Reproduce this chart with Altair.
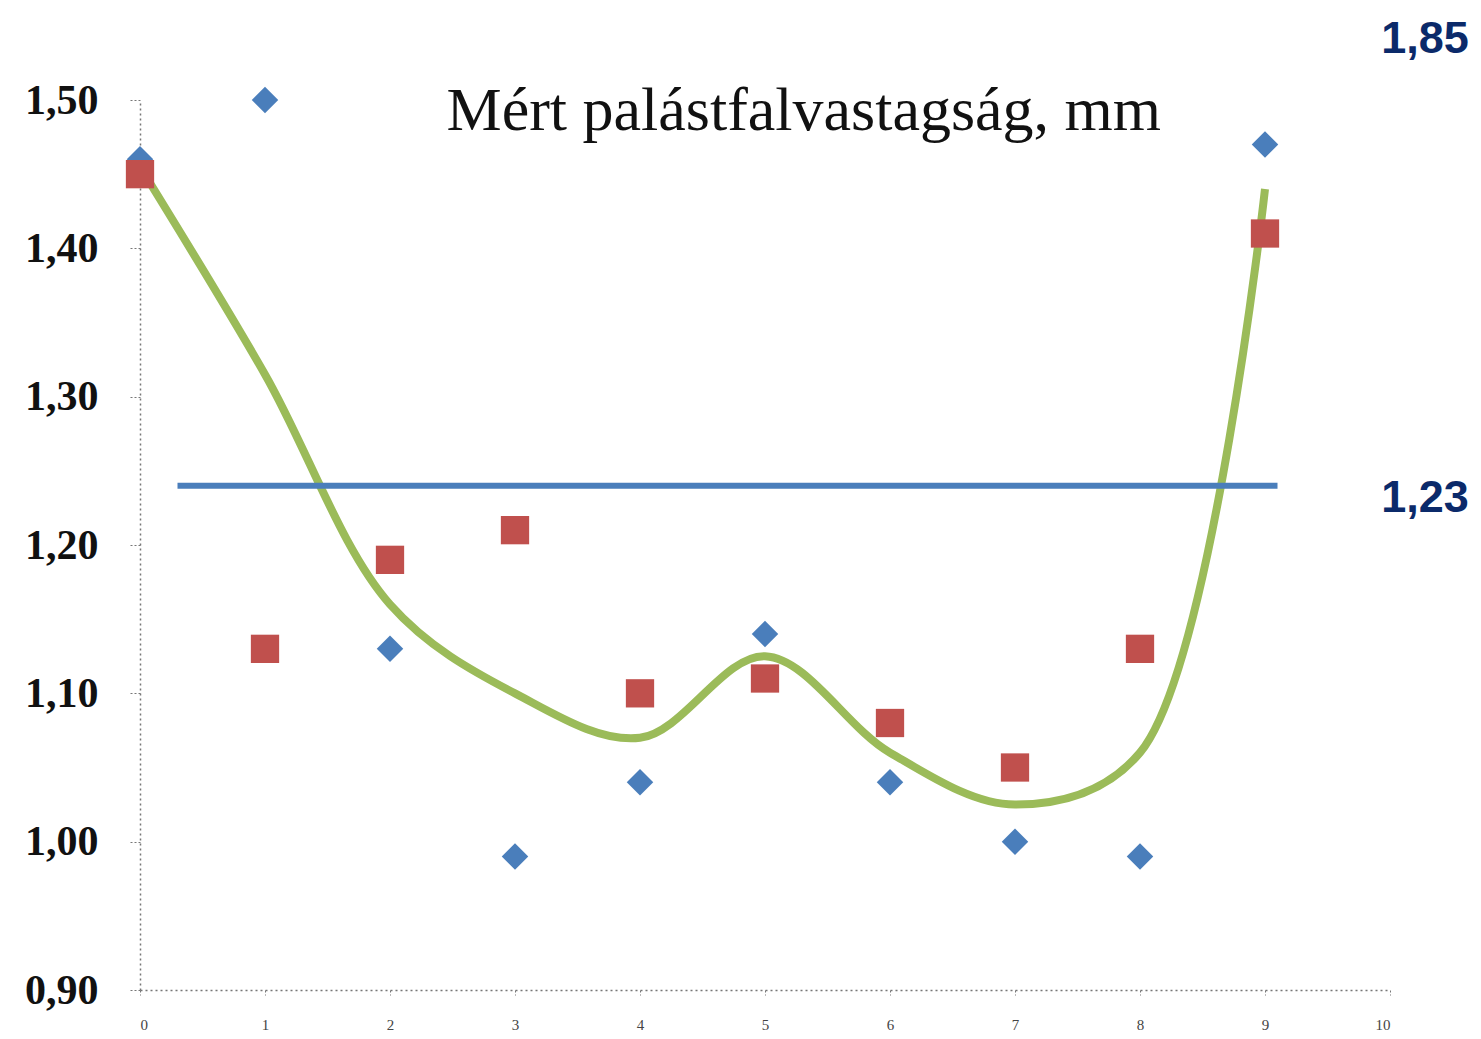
import altair as alt
import pandas as pd

# Measurement positions
x_pos = [0, 1, 2, 3, 4, 5, 6, 7, 8, 9]
# Series 1 (blue diamonds)
blue_vals = [1.46, 1.50, 1.13, 0.99, 1.04, 1.14, 1.04, 1.00, 0.99, 1.47]
# Series 2 (red squares)
red_vals = [1.45, 1.13, 1.19, 1.21, 1.10, 1.11, 1.08, 1.05, 1.13, 1.41]
# Smoothed average (green curve)
avg_vals = [1.455, 1.315, 1.16, 1.10, 1.07, 1.125, 1.06, 1.025, 1.06, 1.44]

# Horizontal reference line
ref_x = [0.3, 9.1]
ref_y = [1.24, 1.24]

# Annotations at the right
ann_text = ["1,85", "1,23"]
ann_x = [10.63, 10.63]
ann_y = [1.541, 1.232]

title_text = ["Mért palástfalvastagság, mm"]
title_x = [5.31]
title_y = [1.48]

y_ticks = [0.9, 1.0, 1.1, 1.2, 1.3, 1.4, 1.5]
x_ticks = [0, 1, 2, 3, 4, 5, 6, 7, 8, 9, 10]

df_blue = pd.DataFrame({"x": x_pos, "y": blue_vals})
df_red = pd.DataFrame({"x": x_pos, "y": red_vals})
df_avg = pd.DataFrame({"x": x_pos, "y": avg_vals})
df_ref = pd.DataFrame({"x": [ref_x[0]], "x2": [ref_x[1]], "y": [ref_y[0]]})
df_ann = pd.DataFrame({"x": ann_x, "y": ann_y, "t": ann_text})
df_title = pd.DataFrame({"x": title_x, "y": title_y, "t": title_text})

xs = alt.Scale(domain=[0, 10], nice=False, zero=False)
ys = alt.Scale(domain=[0.9, 1.5], nice=False, zero=False)

x_axis = alt.Axis(
    values=x_ticks, format="d", title=None, grid=False,
    domainDash=[2, 3], domainColor="#777", domainWidth=1.5,
    tickDash=[2, 2], tickColor="#777", tickSize=5,
    labelFont="Liberation Serif", labelFontSize=15, labelColor="#444",
    labelPadding=22,
)
y_axis = alt.Axis(
    values=y_ticks, title=None, grid=False,
    labelExpr="replace(format(datum.value, '.2f'), '.', ',')",
    domainDash=[2, 3], domainColor="#777", domainWidth=1.5,
    tickDash=[2, 2], tickColor="#777", tickSize=12,
    labelFont="Liberation Serif", labelFontSize=42, labelFontWeight="bold",
    labelColor="#111", labelPadding=30,
)

base_x = alt.X("x:Q", scale=xs, axis=x_axis)
base_y = alt.Y("y:Q", scale=ys, axis=y_axis)

green = alt.Chart(df_avg).mark_line(
    interpolate="catmull-rom", tension=0.5, color="#9BBB59", strokeWidth=8
).encode(x=base_x, y=base_y)

ref = alt.Chart(df_ref).mark_rule(color="#4A7EBB", strokeWidth=6).encode(
    x=alt.X("x:Q", scale=xs), x2="x2:Q", y=alt.Y("y:Q", scale=ys)
)

blue = alt.Chart(df_blue).mark_point(
    shape="diamond", filled=True, size=700, color="#4A7EBB", opacity=1
).encode(x=alt.X("x:Q", scale=xs), y=alt.Y("y:Q", scale=ys))

red = alt.Chart(df_red).mark_point(
    shape="square", filled=True, size=800, color="#C0504D", opacity=1
).encode(x=alt.X("x:Q", scale=xs), y=alt.Y("y:Q", scale=ys))

ann = alt.Chart(df_ann).mark_text(
    font="Liberation Sans", fontSize=45, fontWeight="bold", color="#0B2A6A",
    align="right", baseline="middle"
).encode(x=alt.X("x:Q", scale=xs), y=alt.Y("y:Q", scale=ys), text="t:N")

title = alt.Chart(df_title).mark_text(
    font="Liberation Serif", fontSize=62, color="#111",
    align="center", baseline="alphabetic"
).encode(x=alt.X("x:Q", scale=xs), y=alt.Y("y:Q", scale=ys), text="t:N")

chart = alt.layer(green, ref, blue, red, ann, title).properties(
    width=1250, height=890,
    autosize=alt.AutoSizeParams(type="none"),
    padding={"left": 132, "top": 92, "right": 83, "bottom": 41},
).configure_view(stroke=None)

chart.save("out.html", embed_options={"renderer": "svg", "actions": False})
